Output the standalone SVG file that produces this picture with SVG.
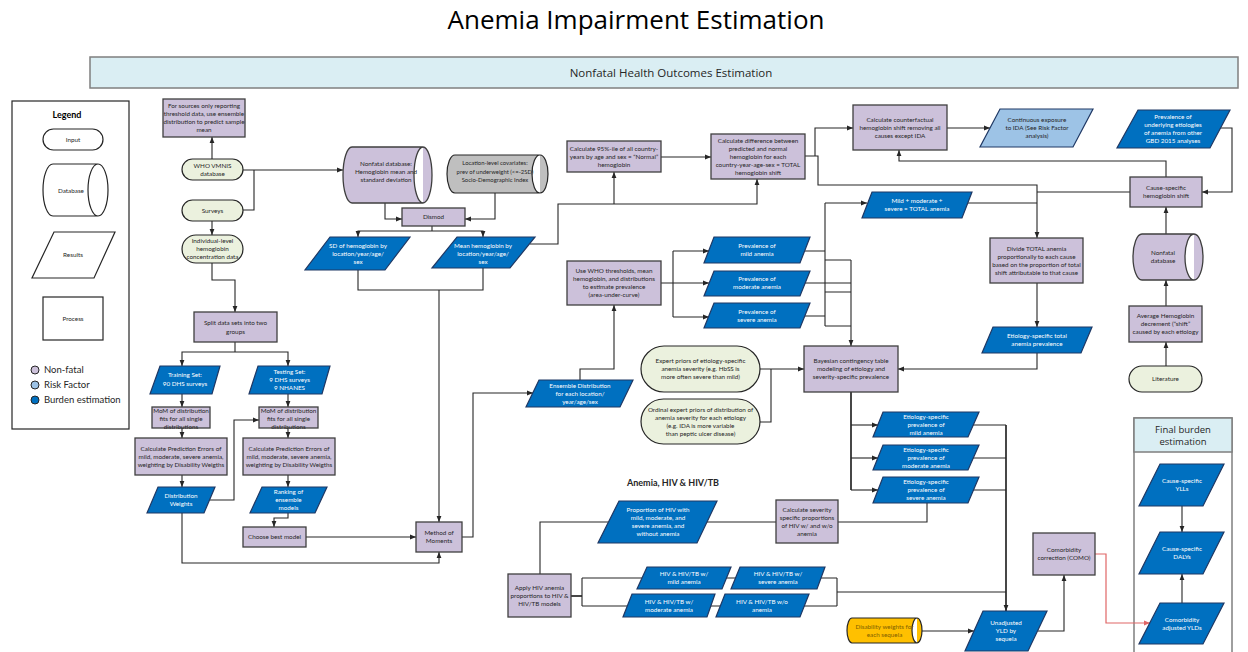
<svg xmlns="http://www.w3.org/2000/svg" width="1248" height="652" viewBox="0 0 1248 652">
<defs>
<style>
.p{fill:#CCC1DA;stroke:#3F3F3F;stroke-width:1.3}
.r{fill:#0070C0;stroke:#1F3864;stroke-width:1.2}
.rl{fill:#9DC3E6;stroke:#1F3864;stroke-width:1.2}
.i{fill:#EBF1DE;stroke:#262626;stroke-width:1.2}
.g{fill:#BFBFBF;stroke:#262626;stroke-width:1.2}
.y{fill:#FFC000;stroke:#262626;stroke-width:1.2}
.lg{fill:#fff;stroke:#262626;stroke-width:1.2}
.t{font-family:Lato,"Liberation Sans",sans-serif;font-size:6.3px;text-anchor:middle;fill:#262626}
.w{fill:#fff}
.c{fill:none;stroke:#262626;stroke-width:1.1}
.k{stroke-width:1.7}
.red{fill:none;stroke:#E06666;stroke-width:1.2}
</style>
<marker id="a" viewBox="0 0 6 6" refX="6" refY="3" markerWidth="6" markerHeight="6" markerUnits="userSpaceOnUse" orient="auto"><path d="M0,0.6 L6,3 L0,5.4 z" fill="#262626"/></marker>
<marker id="ar" viewBox="0 0 6 6" refX="6" refY="3" markerWidth="6" markerHeight="6" markerUnits="userSpaceOnUse" orient="auto"><path d="M0,0.6 L6,3 L0,5.4 z" fill="#E06666"/></marker>
</defs>
<rect width="1248" height="652" fill="#fff"/>
<text x="636" y="29" font-family="'Open Sans',sans-serif" font-size="26" text-anchor="middle" fill="#000">Anemia Impairment Estimation</text>
<g id="banner"><rect x="90" y="57" width="1148" height="31" fill="#DAEEF3" stroke="#7F7F7F" stroke-width="1.5"/><text x="671" y="77" font-family="'Open Sans',sans-serif" font-size="11.5" text-anchor="middle" fill="#262626">Nonfatal Health Outcomes Estimation</text></g>

<g id="legend">
<rect x="12" y="101" width="117" height="328" fill="#fff" stroke="#262626" stroke-width="1.2"/>
<text x="67" y="118" font-family="Lato,sans-serif" font-size="9" font-weight="bold" text-anchor="middle" fill="#000">Legend</text>
<rect class="lg" x="43" y="129" width="60" height="21" rx="10.5"/><text class="t" x="73" y="141.7">Input</text>
<path class="lg" d="M53,164 H98 A10,26 0 0 1 98,216 H53 A10,26 0 0 1 53,164 Z M98,164 A10,26 0 0 0 98,216"/><text class="t" x="71" y="192.5">Database</text>
<polygon class="lg" points="54,232 115,232 94,278 32,278"/><text class="t" x="73" y="257">Results</text>
<rect class="lg" x="43" y="297" width="60" height="43"/><text class="t" x="73" y="320.5">Process</text>
<circle cx="35" cy="370" r="4" fill="#CCC1DA" stroke="#262626"/>
<circle cx="35" cy="385" r="4" fill="#9DC3E6" stroke="#262626"/>
<circle cx="35" cy="400" r="4" fill="#0070C0" stroke="#262626"/>
<g font-family="Lato,sans-serif" font-size="9.5" fill="#262626"><text x="44" y="373.3">Non-fatal</text><text x="44" y="388.3">Risk Factor</text><text x="44" y="403.3">Burden estimation</text></g>
</g>

<g id="n-final">
<rect x="1134" y="418" width="98" height="245" fill="#fff" stroke="#7F7F7F" stroke-width="1.5"/>
<rect x="1134" y="418" width="98" height="34" fill="#DAEEF3" stroke="#7F7F7F" stroke-width="1.5"/>
<text font-family="'Open Sans',sans-serif" font-size="9.5" text-anchor="middle" fill="#262626"><tspan x="1183" y="432.5">Final burden</tspan><tspan x="1183" y="444.5">estimation</tspan></text>
</g>

<g id="connectors">
<path class="c" marker-end="url(#a)" d="M212,159 V137"/>
<path class="c" marker-end="url(#a)" d="M243,170 H343"/>
<path class="c" d="M243,210 H254 V170"/>
<path class="c" marker-end="url(#a)" d="M212,221 V235"/>
<path class="c" marker-end="url(#a)" d="M212,263 V280 H235 V312"/>
<path class="c" marker-end="url(#a)" d="M385,203 V219 H402"/>
<path class="c" marker-end="url(#a)" d="M495,193 V219 H465"/>
<path class="c" d="M432,226 V231"/>
<path class="c" marker-end="url(#a)" d="M432,231 H358 V237"/>
<path class="c" marker-end="url(#a)" d="M432,231 H483 V237"/>
<path class="c" d="M358,270 V290 H483 V268"/>
<path class="c" marker-end="url(#a)" d="M439,290 V522"/>
<path class="c" marker-end="url(#a)" d="M530,244 H558 V204 H757 V179"/>
<path class="c" marker-end="url(#a)" d="M614,204 V172"/>
<path class="c" marker-end="url(#a)" d="M661,157 H711"/>
<path class="c" marker-end="url(#a)" d="M805,156 H818 V185 H1037 V238"/>
<path class="c" marker-end="url(#a)" d="M815,156 V128 H853"/>
<path class="c" marker-end="url(#a)" d="M947,128 H990"/>
<path class="c" marker-end="url(#a)" d="M1220,128 H1232 V192 H1202"/>
<path class="c" marker-end="url(#a)" d="M1166,177 V161 H899 V150"/>
<path class="c" d="M1130,192 H1037 M968,203 H1037"/>
<path class="c" marker-end="url(#a)" d="M825,203 H867"/>
<path class="c" d="M825,203 V326 M805,251 H825 M825,260 H851 M805,283 H851 M825,292 H851 M805,316 H825 M825,326 H851"/>
<path class="c" marker-end="url(#a)" d="M851,260 V346"/>
<path class="c" d="M661,283 H673 M673,251 V317"/>
<path class="c" marker-end="url(#a)" d="M673,251 H709"/>
<path class="c" marker-end="url(#a)" d="M673,283 H709"/>
<path class="c" marker-end="url(#a)" d="M673,317 H709"/>
<path class="c" marker-end="url(#a)" d="M580,380 V369 H614 V305"/>
<path class="c" marker-end="url(#a)" d="M462,537 H473 V393 H533"/>
<path class="c" marker-end="url(#a)" d="M760,369 H804"/>
<path class="c" d="M760,422 H771 V369"/>
<path class="c" marker-end="url(#a)" d="M1037,353 V369 H898"/>
<path class="c" marker-end="url(#a)" d="M1037,283 V327"/>
<path class="c" marker-end="url(#a)" d="M1166,234 V207"/>
<path class="c" marker-end="url(#a)" d="M1166,306 V280"/>
<path class="c" marker-end="url(#a)" d="M1166,366 V342"/>
<path class="c k" d="M851,392 V490"/>
<path class="c" marker-end="url(#a)" d="M851,425 H878"/>
<path class="c" marker-end="url(#a)" d="M851,458 H878"/>
<path class="c" marker-end="url(#a)" d="M851,490 H878"/>
<path class="c" d="M970,425 H1006 M970,458 H1006 M970,490 H1006"/>
<path class="c k" marker-end="url(#a)" d="M1006,425 V611"/>
<path class="c" d="M927,503 V522 H838"/>
<path class="c" d="M776,522 H707 M608,522 H540 V574"/>
<path class="c k" d="M571,596 H582"/>
<path class="c" d="M582,578 V606 M582,578 H837 M582,606 H837 M837,578 V606 M837,592 H1006"/>
<path class="c" marker-end="url(#a)" d="M922,631 H974"/>
<path class="c" marker-end="url(#a)" d="M1038,631 H1064 V575"/>
<path class="red" marker-end="url(#ar)" d="M1095,554 H1106 V623 H1150"/>
<path class="c" marker-end="url(#a)" d="M1182,506 V532"/>
<path class="c" marker-end="url(#a)" d="M1182,603 V574"/>
<path class="c" d="M235,342 V352"/>
<path class="c" marker-end="url(#a)" d="M235,352 H182 V366"/>
<path class="c" marker-end="url(#a)" d="M235,352 H288 V366"/>
<path class="c" marker-end="url(#a)" d="M182,394 V407"/>
<path class="c" marker-end="url(#a)" d="M288,394 V407"/>
<path class="c" marker-end="url(#a)" d="M182,428 V438"/>
<path class="c" marker-end="url(#a)" d="M288,428 V438"/>
<path class="c" marker-end="url(#a)" d="M182,475 V487"/>
<path class="c" marker-end="url(#a)" d="M288,475 V487"/>
<path class="c" marker-end="url(#a)" d="M210,500 H234 V420 H259"/>
<path class="c" marker-end="url(#a)" d="M288,513 V518 H274 V527"/>
<path class="c" marker-end="url(#a)" d="M306,537 H416"/>
<path class="c" marker-end="url(#a)" d="M182,513 V563 H439 V552"/>
</g>

<g id="n-sources"><rect class="p" x="163" y="99" width="82" height="38"/><text class="t"><tspan x="204" y="108.2">For sources only reporting</tspan><tspan x="204" y="116.2">threshold data, use ensemble</tspan><tspan x="204" y="124.2">distribution to predict sample</tspan><tspan x="204" y="132.2">mean</tspan></text></g>
<g id="n-who"><rect class="i" x="182" y="159" width="61" height="21" rx="10.5"/><text class="t"><tspan x="212.5" y="168.2">WHO VMNIS</tspan><tspan x="212.5" y="176.2">database</tspan></text></g>
<g id="n-surveys"><rect class="i" x="182" y="200" width="61" height="21" rx="10.5"/><text class="t" x="212.5" y="212.7">Surveys</text></g>
<g id="n-individual"><rect class="i" x="182" y="235" width="61" height="28" rx="14"/><text class="t"><tspan x="212.5" y="243.2">Individual-level</tspan><tspan x="212.5" y="251.2">hemoglobin</tspan><tspan x="212.5" y="259.2">concentration data</tspan></text></g>
<g id="n-nonfataldb"><path class="p" d="M352,147 H423 A9,28 0 0 1 423,203 H352 A9,28 0 0 1 352,147 Z M423,147 A9,28 0 0 0 423,203"/><text class="t"><tspan x="386" y="166.2">Nonfatal database:</tspan><tspan x="386" y="174.2">Hemoglobin mean and</tspan><tspan x="386" y="182.2">standard deviation</tspan></text></g>
<g id="n-covariates"><path class="g" d="M455,155 H540 A8,19 0 0 1 540,193 H455 A8,19 0 0 1 455,155 Z M540,155 A8,19 0 0 0 540,193"/><text class="t" style="font-size:5.9px"><tspan x="495" y="165.2">Location-level covariates:</tspan><tspan x="495" y="173.7">prev of underweight (&lt;=-2SD)</tspan><tspan x="495" y="182.2">Socio-Demographic Index</tspan></text></g>
<g id="n-dismod"><rect class="p" x="402" y="208" width="63" height="18"/><text class="t" x="433.5" y="219.2">Dismod</text></g>
<g id="n-sd"><polygon class="r" points="330,237 410,237 385,270 305,270"/><text class="t w"><tspan x="358" y="248.2">SD of hemoglobin by</tspan><tspan x="358" y="256.2">location/year/age/</tspan><tspan x="358" y="264.2">sex</tspan></text></g>
<g id="n-mean"><polygon class="r" points="457,237 535,237 510,268 432,268"/><text class="t w"><tspan x="483" y="248.2">Mean hemoglobin by</tspan><tspan x="483" y="256.2">location/year/age/</tspan><tspan x="483" y="264.2">sex</tspan></text></g>
<g id="n-pct95"><rect class="p" x="567" y="141" width="94" height="31"/><text class="t"><tspan x="614" y="151.2">Calculate 95%-ile of all country-</tspan><tspan x="614" y="159.2">years by age and sex = “Normal”</tspan><tspan x="614" y="167.2">hemoglobin</tspan></text></g>
<g id="n-diff"><rect class="p" x="711" y="134" width="94" height="45"/><text class="t"><tspan x="758" y="143.2">Calculate difference between</tspan><tspan x="758" y="151.2">predicted and normal</tspan><tspan x="758" y="159.2">hemoglobin for each</tspan><tspan x="758" y="167.2">country-year-age-sex = TOTAL</tspan><tspan x="758" y="175.2">hemoglobin shift</tspan></text></g>
<g id="n-counterfactual"><rect class="p" x="853" y="105" width="94" height="45"/><text class="t"><tspan x="900" y="122.2">Calculate counterfactual</tspan><tspan x="900" y="130.2">hemoglobin shift removing all</tspan><tspan x="900" y="138.2">causes except IDA</tspan></text></g>
<g id="n-continuous"><polygon class="rl" points="1000,109 1093,109 1073,147 980,147"/><text class="t"><tspan x="1037" y="122.2">Continuous exposure</tspan><tspan x="1037" y="130.2">to IDA (See Risk Factor</tspan><tspan x="1037" y="138.2">analysis)</tspan></text></g>
<g id="n-underlying"><polygon class="r" points="1138,110 1230,110 1210,148 1117,148"/><text class="t w"><tspan x="1173" y="119.2">Prevalence of</tspan><tspan x="1173" y="127.2">underlying etiologies</tspan><tspan x="1173" y="135.2">of anemia from other</tspan><tspan x="1173" y="143.2">GBD 2015 analyses</tspan></text></g>
<g id="n-causeshift"><rect class="p" x="1130" y="177" width="72" height="30"/><text class="t"><tspan x="1166" y="190.2">Cause-specific</tspan><tspan x="1166" y="198.2">hemoglobin shift</tspan></text></g>
<g id="n-total"><polygon class="r" points="872,192 972,192 962,218 862,218"/><text class="t w"><tspan x="917" y="203.2">Mild + moderate +</tspan><tspan x="917" y="211.2">severe = TOTAL anemia</tspan></text></g>
<g id="n-divide"><rect class="p" x="990" y="238" width="93" height="45"/><text class="t"><tspan x="1036.5" y="251.2">Divide TOTAL anemia</tspan><tspan x="1036.5" y="259.2">proportionally to each cause</tspan><tspan x="1036.5" y="267.2">based on the proportion of total</tspan><tspan x="1036.5" y="275.2">shift attributable to that cause</tspan></text></g>
<g id="n-etiototal"><polygon class="r" points="993,327 1092,327 1081,353 982,353"/><text class="t w"><tspan x="1037" y="338.2">Etiology-specific total</tspan><tspan x="1037" y="346.2">anemia prevalence</tspan></text></g>
<g id="n-nonfataldb2"><path class="p" d="M1142,234 H1194 A9,23 0 0 1 1194,280 H1142 A9,23 0 0 1 1142,234 Z M1194,234 A9,23 0 0 0 1194,280"/><text class="t"><tspan x="1163" y="255.2">Nonfatal</tspan><tspan x="1163" y="263.2">database</tspan></text></g>
<g id="n-average"><rect class="p" x="1129" y="306" width="73" height="36"/><text class="t"><tspan x="1165.5" y="318.2">Average Hemoglobin</tspan><tspan x="1165.5" y="326.2">decrement (“shift”</tspan><tspan x="1165.5" y="334.2">caused by each etiology</tspan></text></g>
<g id="n-literature"><rect class="i" x="1129" y="366" width="73" height="26" rx="13"/><text class="t" x="1165.5" y="381.2">Literature</text></g>
<g id="n-prevmild"><polygon class="r" points="714,237 810,237 800,263 704,263"/><text class="t w"><tspan x="757" y="248.2">Prevalence of</tspan><tspan x="757" y="256.2">mild anemia</tspan></text></g>
<g id="n-prevmod"><polygon class="r" points="714,271 810,271 800,296 704,296"/><text class="t w"><tspan x="757" y="281.2">Prevalence of</tspan><tspan x="757" y="289.2">moderate anemia</tspan></text></g>
<g id="n-prevsev"><polygon class="r" points="714,303 810,303 800,328 704,328"/><text class="t w"><tspan x="757" y="314.2">Prevalence of</tspan><tspan x="757" y="322.2">severe anemia</tspan></text></g>
<g id="n-usewho"><rect class="p" x="567" y="261" width="94" height="44"/><text class="t"><tspan x="614" y="273.2">Use WHO thresholds, mean</tspan><tspan x="614" y="281.2">hemoglobin, and distributions</tspan><tspan x="614" y="289.2">to estimate prevalence</tspan><tspan x="614" y="297.2">(area-under-curve)</tspan></text></g>
<g id="n-ensemble"><polygon class="r" points="539,380 633,380 620,407 526,407"/><text class="t w"><tspan x="580" y="388.2">Ensemble Distribution</tspan><tspan x="580" y="396.2">for each location/</tspan><tspan x="580" y="404.2">year/age/sex</tspan></text></g>
<g id="n-expert"><rect class="i" x="641" y="346" width="119" height="46" rx="23"/><text class="t"><tspan x="700.5" y="363.2">Expert priors of etiology-specific</tspan><tspan x="700.5" y="371.2">anemia severity (e.g. HbSS is</tspan><tspan x="700.5" y="379.2">more often severe than mild)</tspan></text></g>
<g id="n-ordinal"><rect class="i" x="641" y="399" width="119" height="45" rx="22.5"/><text class="t"><tspan x="700.5" y="411.7">Ordinal expert priors of distribution of</tspan><tspan x="700.5" y="419.7">anemia severity for each etiology</tspan><tspan x="700.5" y="427.7">(e.g. IDA is more variable</tspan><tspan x="700.5" y="435.7">than peptic ulcer disease)</tspan></text></g>
<g id="n-bayesian"><rect class="p" x="804" y="346" width="94" height="46"/><text class="t"><tspan x="851" y="363.2">Bayesian contingency table</tspan><tspan x="851" y="371.2">modeling of etiology and</tspan><tspan x="851" y="379.2">severity-specific prevalence</tspan></text></g>
<g id="n-etiomild"><polygon class="r" points="883,412 979,412 968,437 873,437"/><text class="t w"><tspan x="926" y="418.7">Etiology-specific</tspan><tspan x="926" y="426.7">prevalence of</tspan><tspan x="926" y="434.7">mild anemia</tspan></text></g>
<g id="n-etiomod"><polygon class="r" points="883,445 979,445 968,470 873,470"/><text class="t w"><tspan x="926" y="451.7">Etiology-specific</tspan><tspan x="926" y="459.7">prevalence of</tspan><tspan x="926" y="467.7">moderate anemia</tspan></text></g>
<g id="n-etiosev"><polygon class="r" points="883,477 979,477 968,503 873,503"/><text class="t w"><tspan x="926" y="484.2">Etiology-specific</tspan><tspan x="926" y="492.2">prevalence of</tspan><tspan x="926" y="500.2">severe anemia</tspan></text></g>
<text x="673" y="485.5" font-family="Lato,sans-serif" font-size="9" font-weight="bold" text-anchor="middle" fill="#262626">Anemia, HIV &amp; HIV/TB</text>
<g id="n-prophiv"><polygon class="r" points="619,501 717,501 697,543 598,543"/><text class="t w"><tspan x="658" y="512.2">Proportion of HIV with</tspan><tspan x="658" y="520.2">mild, moderate, and</tspan><tspan x="658" y="528.2">severe anemia, and</tspan><tspan x="658" y="536.2">without anemia</tspan></text></g>
<g id="n-calcsev"><rect class="p" x="776" y="500" width="62" height="43"/><text class="t"><tspan x="807" y="512.2">Calculate severity</tspan><tspan x="807" y="520.2">specific proportions</tspan><tspan x="807" y="528.2">of HIV w/ and w/o</tspan><tspan x="807" y="536.2">anemia</tspan></text></g>
<g id="n-apply"><rect class="p" x="508" y="574" width="63" height="43"/><text class="t"><tspan x="539.5" y="589.7">Apply HIV anemia</tspan><tspan x="539.5" y="597.7">proportions to HIV &amp;</tspan><tspan x="539.5" y="605.7">HIV/TB models</tspan></text></g>
<g id="n-hivmild"><polygon class="r" points="647,567 731,567 722,589 637,589"/><text class="t w"><tspan x="684" y="576.2">HIV &amp; HIV/TB w/</tspan><tspan x="684" y="584.2">mild anemia</tspan></text></g>
<g id="n-hivsev"><polygon class="r" points="740,567 825,567 817,589 731,589"/><text class="t w"><tspan x="778" y="576.2">HIV &amp; HIV/TB w/</tspan><tspan x="778" y="584.2">severe anemia</tspan></text></g>
<g id="n-hivmod"><polygon class="r" points="632,594 715,594 707,617 623,617"/><text class="t w"><tspan x="669" y="603.7">HIV &amp; HIV/TB w/</tspan><tspan x="669" y="611.7">moderate anemia</tspan></text></g>
<g id="n-hivwo"><polygon class="r" points="725,594 809,594 800,617 716,617"/><text class="t w"><tspan x="762" y="603.7">HIV &amp; HIV/TB w/o</tspan><tspan x="762" y="611.7">anemia</tspan></text></g>
<g id="n-unadjusted"><polygon class="r" points="983,611 1047,611 1028,651 965,651"/><text class="t w"><tspan x="1006" y="625.2">Unadjusted</tspan><tspan x="1006" y="633.2">YLD by</tspan><tspan x="1006" y="641.2">sequela</tspan></text></g>
<g id="n-disability"><path class="y" d="M852,618 H917 A5,12.5 0 0 1 917,643 H852 A5,12.5 0 0 1 852,618 Z M917,618 A5,12.5 0 0 0 917,643"/><text class="t" style="fill:#7F6000"><tspan x="884.5" y="629.2">Disability weights for</tspan><tspan x="884.5" y="637.2">each sequela</tspan></text></g>
<g id="n-como"><rect class="p" x="1033" y="533" width="62" height="42"/><text class="t"><tspan x="1064" y="552.2">Comorbidity</tspan><tspan x="1064" y="560.2">correction (COMO)</tspan></text></g>
<g id="n-ylls"><polygon class="r" points="1160,464 1224,464 1203,506 1139,506"/><text class="t w"><tspan x="1182" y="483.2">Cause-specific</tspan><tspan x="1182" y="491.2">YLLs</tspan></text></g>
<g id="n-dalys"><polygon class="r" points="1160,532 1224,532 1203,574 1139,574"/><text class="t w"><tspan x="1182" y="551.2">Cause-specific</tspan><tspan x="1182" y="559.2">DALYs</tspan></text></g>
<g id="n-ylds"><polygon class="r" points="1160,603 1224,603 1203,644 1139,644"/><text class="t w"><tspan x="1182" y="622.2">Comorbidity</tspan><tspan x="1182" y="630.2">adjusted YLDs</tspan></text></g>
<g id="n-split"><rect class="p" x="194" y="312" width="83" height="30"/><text class="t"><tspan x="235.5" y="325.2">Split data sets into two</tspan><tspan x="235.5" y="334.2">groups</tspan></text></g>
<g id="n-training"><polygon class="r" points="160,366 220,366 212,394 150,394"/><text class="t w"><tspan x="185" y="377.2">Training Set:</tspan><tspan x="185" y="386.2">90 DHS surveys</tspan></text></g>
<g id="n-testing"><polygon class="r" points="258,366 330,366 322,394 249,394"/><text class="t w"><tspan x="289.5" y="374.2">Testing Set:</tspan><tspan x="289.5" y="382.2">9 DHS surveys</tspan><tspan x="289.5" y="390.2">9 NHANES</tspan></text></g>
<g id="n-mom1"><rect class="p" x="152" y="407" width="58" height="21"/><text class="t"><tspan x="181" y="413.2">MoM of distribution</tspan><tspan x="181" y="421.2">fits for all single</tspan><tspan x="181" y="429.2">distributions</tspan></text></g>
<g id="n-mom2"><rect class="p" x="259" y="407" width="59" height="21"/><text class="t"><tspan x="288.5" y="413.2">MoM of distribution</tspan><tspan x="288.5" y="421.2">fits for all single</tspan><tspan x="288.5" y="429.2">distributions</tspan></text></g>
<g id="n-calc1"><rect class="p" x="135" y="438" width="92" height="37"/><text class="t"><tspan x="181" y="450.7">Calculate Prediction Errors of</tspan><tspan x="181" y="458.7">mild, moderate, severe anemia,</tspan><tspan x="181" y="466.7">weighting by Disability Weigths</tspan></text></g>
<g id="n-calc2"><rect class="p" x="243" y="438" width="92" height="37"/><text class="t"><tspan x="289" y="450.7">Calculate Prediction Errors of</tspan><tspan x="289" y="458.7">mild, moderate, severe anemia,</tspan><tspan x="289" y="466.7">weighting by Disability Weigths</tspan></text></g>
<g id="n-distweights"><polygon class="r" points="158,487 215,487 204,513 147,513"/><text class="t w"><tspan x="181" y="498.2">Distribution</tspan><tspan x="181" y="506.2">Weights</tspan></text></g>
<g id="n-ranking"><polygon class="r" points="262,487 327,487 315,513 250,513"/><text class="t w"><tspan x="288.5" y="494.2">Ranking of</tspan><tspan x="288.5" y="502.2">ensemble</tspan><tspan x="288.5" y="510.2">models</tspan></text></g>
<g id="n-choose"><rect class="p" x="243" y="527" width="63" height="20"/><text class="t" x="274.5" y="539.2">Choose best model</text></g>
<g id="n-mommethod"><rect class="p" x="416" y="522" width="46" height="30"/><text class="t"><tspan x="439" y="535.2">Method of</tspan><tspan x="439" y="543.2">Moments</tspan></text></g>
</svg>
